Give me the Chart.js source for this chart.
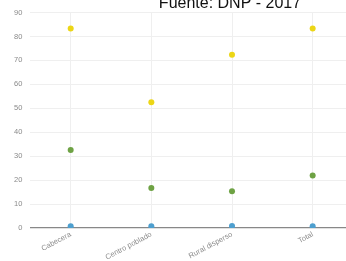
<!DOCTYPE html>
<html lang="es">
<head>
    <meta charset="UTF-8">
    <title>Fuente: DNP - 2017</title>
    <script src="https://cdn.jsdelivr.net/npm/chart.js"></script>
    <style>
        body {
            margin: 0;
            padding: 0;
            background: #fff;
        }
        .chart-box {
            width: 346px;
            height: 261px;
            overflow: hidden;
            position: relative;
        }
        .chart-box canvas {
            position: absolute;
            left: 0;
            top: 0;
        }
    </style>
</head>
<body>
    <div class="chart-box">
        <canvas id="dnpChart" width="360" height="261"></canvas>
    </div>

    <script>
        // datos
        const categorias = ['Cabecera', 'Centro poblado', 'Rural disperso', 'Total'];
        const serieAmarilla = [83.3, 52.5, 72.4, 83.3];
        const serieVerde = [32.6, 16.7, 15.3, 21.9];
        const serieAzul = [0.7, 0.7, 0.8, 0.7];
        const ticksY = [0, 10, 20, 30, 40, 50, 60, 70, 80, 90];
        const titulo = 'Fuente: DNP - 2017';

        // titulo recortado arriba, como en la imagen
        const tituloPlugin = {
            id: 'tituloPlugin',
            afterDraw(chart) {
                const c = chart.ctx;
                c.save();
                c.font = '16px Arial, "Liberation Sans", sans-serif';
                c.fillStyle = '#111';
                c.textAlign = 'center';
                c.textBaseline = 'alphabetic';
                c.fillText(titulo, 230, 8);
                c.restore();
            }
        };

        function serie(data, color) {
            return {
                data: data,
                showLine: false,
                backgroundColor: color,
                borderColor: color,
                pointRadius: 3,
                pointBorderWidth: 0
            };
        }

        const ctx = document.getElementById('dnpChart').getContext('2d');
        new Chart(ctx, {
            type: 'line',
            data: {
                labels: categorias,
                datasets: [
                    serie(serieAmarilla, '#ecd616'),
                    serie(serieVerde, '#6ea244'),
                    serie(serieAzul, '#4d9fcf')
                ]
            },
            options: {
                responsive: false,
                animation: false,
                layout: { padding: { top: 1, right: 7, left: 6, bottom: 0 } },
                plugins: {
                    legend: { display: false },
                    tooltip: { enabled: false }
                },
                scales: {
                    x: {
                        offset: true,
                        afterFit(axis) {
                            axis.height = 33;
                        },
                        grid: {
                            offset: false,
                            color: '#efefef',
                            drawTicks: false
                        },
                        border: { display: false },
                        ticks: {
                            minRotation: 28,
                            maxRotation: 28,
                            padding: 2,
                            color: '#8a8a8a',
                            font: { size: 7.5, family: 'Arial' }
                        }
                    },
                    y: {
                        min: 0,
                        max: 90,
                        afterBuildTicks(axis) {
                            axis.ticks = ticksY.map(v => ({ value: v }));
                        },
                        grid: {
                            color: ctx => ctx.tick && ctx.tick.value === 0 ? '#888' : '#efefef',
                            lineWidth: ctx => ctx.tick && ctx.tick.value === 0 ? 1.2 : 1,
                            drawTicks: false
                        },
                        border: { display: false },
                        ticks: {
                            padding: 8,
                            color: '#8a8a8a',
                            font: { size: 7.5, family: 'Arial' }
                        }
                    }
                }
            },
            plugins: [tituloPlugin]
        });
    </script>
</body>
</html>
